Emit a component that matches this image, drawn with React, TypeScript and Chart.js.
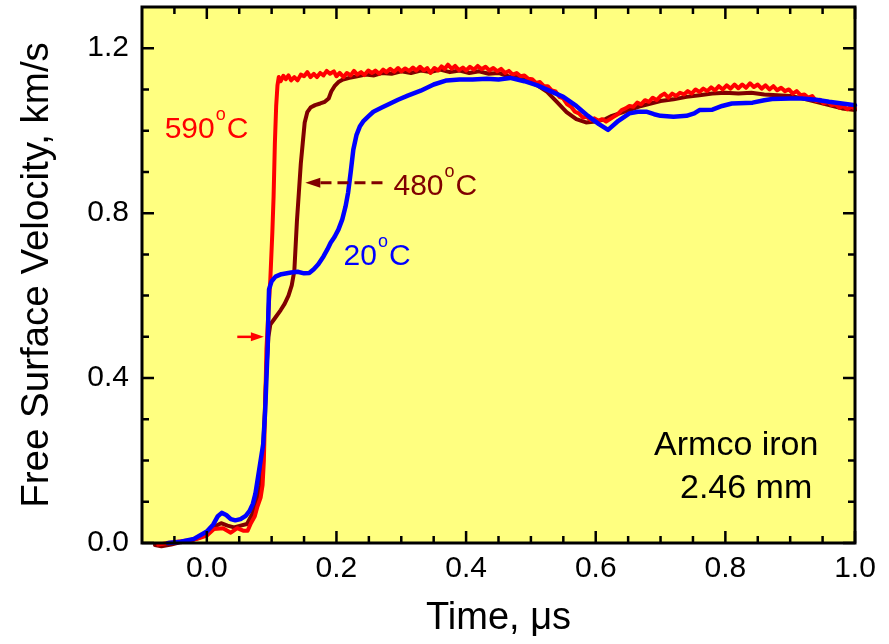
import React, { useEffect, useRef } from 'react';
import { Chart, registerables } from 'chart.js';
Chart.register(...registerables);

// ---- 590 °C (red) ----
const t590 = [-0.075, -0.06, -0.045, -0.03, -0.015, 0.0, 0.011, 0.025, 0.037, 0.047, 0.056, 0.063, 0.068, 0.074, 0.078, 0.083, 0.086, 0.088, 0.09, 0.092, 0.095, 0.098, 0.101, 0.103, 0.105, 0.107, 0.109, 0.111, 0.114, 0.118, 0.122, 0.126, 0.13, 0.135, 0.14, 0.145, 0.15, 0.155, 0.16, 0.165, 0.17, 0.175, 0.18, 0.185, 0.19, 0.196, 0.2, 0.205, 0.211, 0.216, 0.222, 0.227, 0.232, 0.238, 0.243, 0.249, 0.255, 0.26, 0.266, 0.272, 0.277, 0.283, 0.289, 0.295, 0.3, 0.306, 0.312, 0.318, 0.323, 0.329, 0.335, 0.34, 0.345, 0.351, 0.357, 0.362, 0.367, 0.372, 0.378, 0.383, 0.389, 0.395, 0.4, 0.406, 0.412, 0.418, 0.424, 0.43, 0.436, 0.442, 0.448, 0.454, 0.46, 0.466, 0.472, 0.478, 0.484, 0.49, 0.496, 0.502, 0.508, 0.514, 0.52, 0.526, 0.532, 0.538, 0.544, 0.55, 0.556, 0.562, 0.568, 0.574, 0.58, 0.586, 0.592, 0.598, 0.604, 0.61, 0.616, 0.622, 0.628, 0.634, 0.64, 0.646, 0.652, 0.658, 0.664, 0.67, 0.676, 0.682, 0.688, 0.694, 0.7, 0.706, 0.712, 0.718, 0.724, 0.73, 0.736, 0.742, 0.748, 0.754, 0.76, 0.766, 0.772, 0.778, 0.784, 0.79, 0.796, 0.802, 0.808, 0.814, 0.82, 0.826, 0.832, 0.838, 0.844, 0.85, 0.856, 0.862, 0.868, 0.874, 0.88, 0.886, 0.892, 0.898, 0.904, 0.91, 0.916, 0.922, 0.928, 0.934, 0.94, 0.946, 0.952, 0.958, 0.964, 0.97, 0.976, 0.982, 0.988, 0.994, 1.0];
const v590 = [-0.004, 0.0, 0.003, 0.006, 0.01, 0.018, 0.034, 0.036, 0.025, 0.036, 0.03, 0.03, 0.048, 0.065, 0.088, 0.11, 0.14, 0.2, 0.33, 0.47, 0.56, 0.64, 0.75, 0.84, 0.97, 1.06, 1.11, 1.13, 1.12, 1.133, 1.125, 1.134, 1.122, 1.13, 1.122, 1.136, 1.132, 1.142, 1.13, 1.138, 1.13, 1.14, 1.134, 1.145, 1.138, 1.144, 1.132, 1.14, 1.13, 1.14, 1.134, 1.145, 1.136, 1.142, 1.135, 1.146, 1.14, 1.146, 1.138, 1.148, 1.142, 1.15, 1.143, 1.152, 1.144, 1.151, 1.145, 1.153, 1.146, 1.155, 1.146, 1.152, 1.14, 1.152, 1.146, 1.156, 1.15, 1.16, 1.15, 1.157, 1.147, 1.153, 1.146, 1.155, 1.148, 1.157, 1.149, 1.155, 1.146, 1.152, 1.144, 1.15, 1.14, 1.145, 1.136, 1.14, 1.132, 1.134, 1.126, 1.125, 1.116, 1.118, 1.108, 1.108, 1.098, 1.095, 1.082, 1.078, 1.064, 1.058, 1.046, 1.042, 1.032, 1.034, 1.026, 1.03, 1.024, 1.028, 1.022, 1.028, 1.034, 1.04, 1.05, 1.054, 1.06, 1.058, 1.068, 1.064, 1.074, 1.07, 1.08, 1.074, 1.084, 1.09, 1.08, 1.09, 1.084, 1.092, 1.088, 1.096, 1.09, 1.1, 1.094, 1.102, 1.096, 1.105, 1.098, 1.108, 1.1, 1.11, 1.102, 1.112, 1.103, 1.112, 1.104, 1.115, 1.106, 1.112, 1.102, 1.11, 1.1, 1.108, 1.098, 1.104, 1.096, 1.1, 1.09, 1.096, 1.086, 1.088, 1.08, 1.084, 1.072, 1.075, 1.066, 1.07, 1.062, 1.064, 1.056, 1.06, 1.052, 1.058, 1.054];

// ---- 480 °C (dark red) ----
const t480 = [-0.08, -0.07, -0.055, -0.04, -0.02, 0.0, 0.012, 0.022, 0.032, 0.042, 0.052, 0.062, 0.07, 0.077, 0.082, 0.086, 0.089, 0.092, 0.095, 0.098, 0.105, 0.114, 0.12, 0.126, 0.131, 0.135, 0.137, 0.139, 0.142, 0.145, 0.148, 0.151, 0.155, 0.16, 0.167, 0.175, 0.182, 0.188, 0.192, 0.197, 0.203, 0.21, 0.22, 0.232, 0.245, 0.258, 0.27, 0.285, 0.3, 0.315, 0.33, 0.345, 0.36, 0.375, 0.39, 0.405, 0.42, 0.435, 0.45, 0.465, 0.48, 0.495, 0.51, 0.525, 0.54, 0.555, 0.57, 0.585, 0.6, 0.615, 0.625, 0.64, 0.655, 0.67, 0.685, 0.7, 0.72, 0.74, 0.76, 0.78, 0.8, 0.82, 0.84, 0.86, 0.88, 0.9, 0.92, 0.94, 0.96, 0.98, 1.0];
const v480 = [-0.005, -0.008, -0.004, 0.002, 0.008, 0.02, 0.04, 0.048, 0.042, 0.038, 0.042, 0.046, 0.07, 0.1, 0.14, 0.2, 0.3, 0.42, 0.5, 0.53, 0.545, 0.565, 0.58, 0.6, 0.625, 0.66, 0.72, 0.78, 0.85, 0.92, 0.97, 1.02, 1.045, 1.056, 1.062, 1.066, 1.07, 1.078, 1.095, 1.108, 1.118, 1.124, 1.128, 1.132, 1.136, 1.134, 1.14, 1.138, 1.144, 1.14, 1.146, 1.142, 1.148, 1.142, 1.146, 1.14, 1.144, 1.138, 1.14, 1.132, 1.13, 1.12, 1.11, 1.094, 1.07, 1.045, 1.028, 1.02, 1.022, 1.028, 1.036, 1.044, 1.052, 1.06, 1.066, 1.072, 1.076, 1.082, 1.086, 1.09, 1.092, 1.09, 1.092, 1.088, 1.086, 1.084, 1.078, 1.07, 1.062, 1.054, 1.05];

// ---- 20 °C (blue) ----
const t20 = [-0.06, -0.04, -0.02, 0.0, 0.01, 0.017, 0.023, 0.03, 0.037, 0.044, 0.052, 0.06, 0.066, 0.071, 0.075, 0.079, 0.083, 0.087, 0.09, 0.092, 0.094, 0.095, 0.096, 0.1, 0.106, 0.115, 0.13, 0.14, 0.15, 0.158, 0.165, 0.172, 0.18, 0.186, 0.191, 0.197, 0.203, 0.209, 0.214, 0.218, 0.222, 0.226, 0.231, 0.236, 0.242, 0.25, 0.257, 0.27, 0.283, 0.295, 0.31, 0.33, 0.35, 0.37, 0.39, 0.41, 0.432, 0.45, 0.468, 0.49, 0.51, 0.53, 0.55, 0.57, 0.588, 0.605, 0.619, 0.635, 0.652, 0.665, 0.678, 0.69, 0.7, 0.72, 0.74, 0.752, 0.76, 0.78, 0.795, 0.81, 0.842, 0.86, 0.872, 0.9, 0.918, 0.94, 0.96, 0.98, 1.0];
const v20 = [0.0, 0.003, 0.01, 0.028, 0.045, 0.065, 0.073, 0.068, 0.058, 0.055, 0.058, 0.066, 0.078, 0.095, 0.12, 0.16, 0.2, 0.24, 0.32, 0.4, 0.48, 0.56, 0.615, 0.635, 0.646, 0.652, 0.656, 0.658, 0.654, 0.655, 0.664, 0.676, 0.695, 0.712, 0.728, 0.742, 0.76, 0.785, 0.816, 0.85, 0.9, 0.954, 0.99, 1.01, 1.024, 1.036, 1.046, 1.056, 1.066, 1.075, 1.085, 1.097, 1.112, 1.122, 1.124, 1.124, 1.126, 1.124, 1.128, 1.12, 1.11, 1.096, 1.082, 1.06, 1.036, 1.016, 1.002, 1.024, 1.042, 1.046, 1.046, 1.04, 1.036, 1.034, 1.036, 1.042, 1.05, 1.051, 1.06, 1.066, 1.068, 1.074, 1.077, 1.078, 1.078, 1.075, 1.07, 1.066, 1.062];

// ---- axes ----
const xMajorTicks = [0, 0.2, 0.4, 0.6, 0.8, 1.0];
const xMinorTicks = [-0.05, 0.05, 0.1, 0.15, 0.25, 0.3, 0.35, 0.45, 0.5, 0.55, 0.65, 0.7, 0.75, 0.85, 0.9, 0.95];
const yMajorTicks = [0, 0.4, 0.8, 1.2];
const yMinorTicks = [0.1, 0.2, 0.3, 0.5, 0.6, 0.7, 0.9, 1.0, 1.1];

const FONT = '"Liberation Sans", Arial, sans-serif';

function toPoints(xs: number[], ys: number[]) {
  return xs.map((x, i) => ({ x, y: ys[i] }));
}

function drawTemp(ctx: CanvasRenderingContext2D, x: number, y: number, num: string, color: string, size: number) {
  ctx.fillStyle = color;
  ctx.textAlign = 'left';
  ctx.textBaseline = 'alphabetic';
  ctx.font = `${size}px ${FONT}`;
  ctx.fillText(num, x, y);
  const w1 = ctx.measureText(num).width;
  const small = Math.round(size * 0.6);
  ctx.font = `${small}px ${FONT}`;
  ctx.fillText('o', x + w1 + 1, y - size * 0.58);
  const w2 = ctx.measureText('o').width;
  ctx.font = `${size}px ${FONT}`;
  ctx.fillText('C', x + w1 + w2 + 2, y);
}

const decor = {
  id: 'decor',
  beforeDraw(chart: any) {
    const { ctx, chartArea: a } = chart;
    ctx.save();
    ctx.fillStyle = '#FFFF80';
    ctx.fillRect(a.left, a.top, a.right - a.left, a.bottom - a.top);
    ctx.restore();
  },
  afterDatasetsDraw(chart: any) {
    const { ctx, chartArea: a } = chart;
    const xs = chart.scales.x;
    const ys = chart.scales.y;
    ctx.save();
    ctx.strokeStyle = '#000';
    ctx.lineWidth = 2.5;
    ctx.lineCap = 'butt';
    const major = 12, minor = 7;
    const xt = (v: number, len: number) => {
      const p = xs.getPixelForValue(v);
      ctx.beginPath();
      ctx.moveTo(p, a.bottom); ctx.lineTo(p, a.bottom - len);
      ctx.moveTo(p, a.top); ctx.lineTo(p, a.top + len);
      ctx.stroke();
    };
    const yt = (v: number, len: number) => {
      const p = ys.getPixelForValue(v);
      ctx.beginPath();
      ctx.moveTo(a.left, p); ctx.lineTo(a.left + len, p);
      ctx.moveTo(a.right, p); ctx.lineTo(a.right - len, p);
      ctx.stroke();
    };
    xMajorTicks.forEach(v => xt(v, major));
    xMinorTicks.forEach(v => xt(v, minor));
    yMajorTicks.forEach(v => yt(v, major));
    yMinorTicks.forEach(v => yt(v, minor));
    ctx.lineWidth = 3;
    ctx.strokeRect(a.left, a.top, a.right - a.left, a.bottom - a.top);

    const X = (v: number) => xs.getPixelForValue(v);
    const Y = (v: number) => ys.getPixelForValue(v);

    drawTemp(ctx, X(-0.065), Y(0.983), '590', '#FF0000', 30);
    drawTemp(ctx, X(0.288), Y(0.845), '480', '#800000', 30);
    drawTemp(ctx, X(0.211), Y(0.675), '20', '#0000FF', 30);

    const ay = Y(0.874);
    const tip = X(0.152);
    ctx.strokeStyle = '#800000';
    ctx.fillStyle = '#800000';
    ctx.lineWidth = 3;
    ctx.setLineDash([11, 6]);
    ctx.beginPath();
    ctx.moveTo(X(0.271), ay); ctx.lineTo(tip + 12, ay);
    ctx.stroke();
    ctx.setLineDash([]);
    ctx.beginPath();
    ctx.moveTo(tip, ay); ctx.lineTo(tip + 15, ay - 5); ctx.lineTo(tip + 15, ay + 5); ctx.closePath();
    ctx.fill();

    const ry = Y(0.5);
    const rtip = X(0.088);
    ctx.strokeStyle = '#FF0000';
    ctx.fillStyle = '#FF0000';
    ctx.lineWidth = 2.5;
    ctx.beginPath();
    ctx.moveTo(X(0.047), ry); ctx.lineTo(rtip - 10, ry);
    ctx.stroke();
    ctx.beginPath();
    ctx.moveTo(rtip, ry); ctx.lineTo(rtip - 13, ry - 4.5); ctx.lineTo(rtip - 13, ry + 4.5); ctx.closePath();
    ctx.fill();

    ctx.fillStyle = '#000';
    ctx.font = `34px ${FONT}`;
    ctx.textAlign = 'left';
    ctx.textBaseline = 'alphabetic';
    ctx.fillText('Armco iron', X(0.69), Y(0.214));
    ctx.fillText('2.46 mm', X(0.73), Y(0.109));
    ctx.restore();
  },
};

export default function App() {
  const ref = useRef<HTMLCanvasElement>(null);
  useEffect(() => {
    document.body.style.margin = '0';
    if (!ref.current) return;
    const chart = new Chart(ref.current, {
      type: 'line',
      data: {
        datasets: [
          { label: '20°C', data: toPoints(t20, v20), borderColor: '#0000FF', borderWidth: 4.5 },
          { label: '590°C', data: toPoints(t590, v590), borderColor: '#FF0000', borderWidth: 4 },
          { label: '480°C', data: toPoints(t480, v480), borderColor: '#800000', borderWidth: 4 },
        ].map(d => ({ ...d, pointRadius: 0, fill: false, tension: 0, clip: false as any, borderJoinStyle: 'round' as const, borderCapStyle: 'round' as const })),
      },
      options: {
        animation: false,
        responsive: false,
        devicePixelRatio: 1,
        layout: { padding: { left: 0, right: 34, top: 7, bottom: 0 } },
        plugins: { legend: { display: false }, tooltip: { enabled: false } },
        scales: {
          x: {
            type: 'linear',
            min: -0.1,
            max: 1.0,
            grid: { display: false, drawTicks: false },
            border: { display: false },
            afterBuildTicks: (s: any) => { s.ticks = xMajorTicks.map(v => ({ value: v })); },
            afterFit: (s: any) => { s.height = 101; s.paddingLeft = 0; s.paddingRight = 0; },
            ticks: {
              color: '#000',
              font: { family: FONT, size: 30 },
              padding: 8,
              maxRotation: 0,
              autoSkip: false,
              callback: (v: any) => Number(v).toFixed(1),
            },
            title: {
              display: true,
              text: 'Time, μs',
              color: '#000',
              font: { family: FONT, size: 38 },
              padding: { top: 0, bottom: 3 },
            },
          },
          y: {
            type: 'linear',
            min: 0,
            max: 1.3,
            grid: { display: false, drawTicks: false },
            border: { display: false },
            afterBuildTicks: (s: any) => { s.ticks = yMajorTicks.map(v => ({ value: v })); },
            afterFit: (s: any) => { s.width = 142; s.paddingTop = 0; s.paddingBottom = 0; },
            ticks: {
              color: '#000',
              font: { family: FONT, size: 30 },
              padding: 13,
              autoSkip: false,
              callback: (v: any) => Number(v).toFixed(1),
            },
            title: {
              display: true,
              text: 'Free Surface Velocity, km/s',
              color: '#000',
              font: { family: FONT, size: 38.5 },
              padding: { top: 14, bottom: 0 },
            },
          },
        },
      },
      plugins: [decor],
    });
    return () => chart.destroy();
  }, []);
  return (
    <div style={{ position: 'fixed', left: 0, top: 0 }}>
      <canvas ref={ref} width={889} height={644} style={{ display: 'block', width: 889, height: 644 }} />
    </div>
  );
}
